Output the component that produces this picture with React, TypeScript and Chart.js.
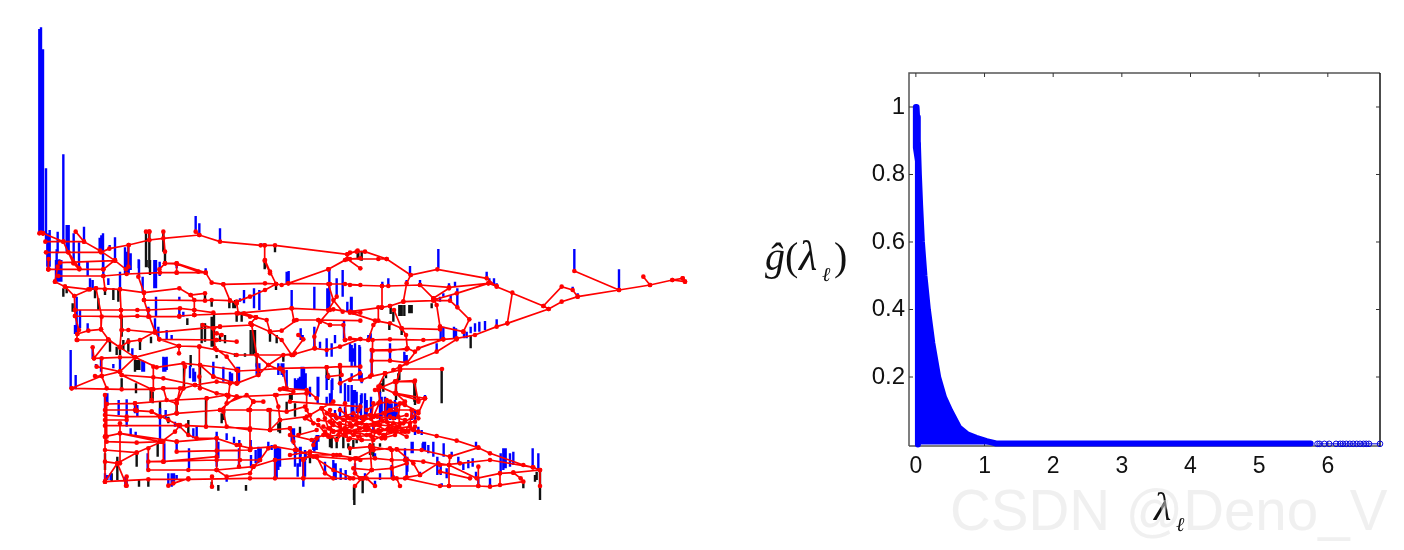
import React, { useEffect, useRef } from "react";
import { Chart, registerables } from "chart.js";

Chart.register(...registerables);

// Left panel: a road network, in map units, one list for each survey sheet.
// Each road is a flat run x,y,x,y... ; each stem is x,top,base.
const roadsNorth: number[][] = [
  [69,670,130,695,160,760,178,778],[76,695,130,695,192,695],[167,665,192,695,240,722,285,752,318,778],
  [78,727,145,727,243,727,268,716,326,705,388,690,430,685,538,675,600,695,722,706,734,706,765,706,982,733,1013,722],
  [145,727,178,775],[86,747,85,778],[120,758,285,752],[85,778,250,778],[326,705,325,770],[378,665,388,665],[388,665,388,690],
  [430,665,435,725],[435,760,470,762,535,785],[435,760,418,778],[527,665,538,675],[734,706,734,752,750,790],
  [982,733,982,747,925,778],[982,747,1021,775],[982,747,1021,745],[58,670,69,670],[63,668,69,670],
];
const roadsSouthWest: number[][] = [
  [85,28,250,28,285,0],[115,48,250,48,320,42,420,38,470,38,557,38],[470,10,470,38],
  [435,10,470,10,557,38,575,68,610,73,735,70,768,72,785,75,805,70,925,28,975,0],[805,70,930,72,975,72,1021,75],[735,0,750,35,768,72],
  [105,65,135,80,205,88,228,85,300,88,372,98,478,85,512,105,555,100],[105,65,113,20],[135,80,163,108,210,88],
  [163,108,165,150,165,168,177,210,172,222,205,212,243,208,265,238,300,262],[165,150,303,150,352,150,385,150,480,145,523,150],[165,168,303,170,352,168,385,170,478,170],
  [228,85,245,170,243,208],[300,88,303,150,303,170,305,210,300,260],[250,48,255,88],
  [355,50,372,98,372,120,388,170,405,215,418,238,477,258],[372,120,555,122,575,120,630,122,650,130],[512,105,523,120,523,165],[523,150,580,158],[478,168,523,165],
  [305,210,325,210,405,218,600,200,695,195],[405,215,360,240,325,245,300,262,265,240],[172,240,265,240],[300,262,345,292],[170,240,172,222],[418,238,590,240],
  [265,240,222,295,218,262],[222,295,300,292,345,292,477,258,477,280],[230,320,300,335,345,292],[225,348,245,348,300,335],[245,348,155,385],[245,295,245,348,260,385],
  [155,385,305,388,395,388,430,385,490,385,525,375],[300,335,305,345,395,388,395,420],
  [305,345,400,352,430,355,525,375,590,365,630,370,650,370,715,345,745,315,790,285,825,280],
  [345,292,410,322,490,310,540,315,580,350],[400,320,400,388],[430,385,440,420,470,430,490,385,495,320],[540,315,650,330],[580,350,650,370],
  [585,265,620,290,650,330,652,370],[710,285,745,315,790,335,800,385],[1021,237,975,240],
  [260,432,345,430,470,420,560,415,620,405],[260,432,260,530],[345,430,350,452,395,455,420,470,470,460],[620,405,650,410,600,450],[620,430,680,405,700,425],
  [255,450,345,450,350,452,395,455,445,480,475,495,505,525,530,535,590,535,650,555,692,565,765,560,825,570],
  [255,465,320,470,420,470],[255,480,320,480],[255,497,500,497,690,505,750,510,810,505],
  [470,460,600,450,690,450,745,450,800,455,855,440],[255,530,260,545,350,548,425,545,465,515,480,495],[255,530,300,520,420,545],[300,520,470,545],
  [255,570,350,578,425,545],[292,610,350,578],[255,605,292,610],[292,610,255,665],[292,610,320,677],[430,605,430,545],[590,535,590,630],[660,555,657,620],
  [255,665,385,658,505,658,690,655,850,655,1020,655],[300,490,300,610],[255,405,255,665],
  [385,565,385,630,505,630,590,630,700,620,765,600,890,590],[385,605,590,600,660,600,720,600],[700,620,720,600,745,565],[765,600,765,655],[850,600,850,655],[890,590,915,640,940,655],[950,585,1005,595,1005,640,1021,655],
  [470,545,590,535],[470,575,590,572,690,570],[430,605,590,590],[590,630,620,650,690,640,700,620],[576,650,576,680],[318,677,320,650],
  [445,677,460,670,505,655],[650,370,630,370,625,410,610,455,620,500,690,510],[525,375,590,400,625,405,650,410,770,405,860,400],
  [480,385,470,430,470,460],[538,260,538,350,540,385],[477,258,538,260,590,270,650,285,710,285,820,285],[580,205,585,265],[548,195,580,205,600,200],
  [590,240,650,245],[590,220,605,225],[650,130,655,160,690,170,708,172,740,180,750,215,785,212,830,180,895,180,1021,182],
  [672,160,708,172],[650,125,690,110,735,90,768,72],[610,73,630,122],[523,165,650,160,815,145,925,150,940,148,1000,158,1021,158],[815,145,822,182],
  [692,190,750,215],[695,195,710,285,715,345],[708,172,692,190],[750,215,785,240,815,285,850,238,835,225],
  [815,285,883,265,920,270,960,260,1021,237],[900,185,883,230,885,265],[900,185,930,150],[930,195,970,195,975,240],[895,180,930,195],
  [925,72,940,120,968,155],[950,110,925,150],[654,333,715,330,780,325,920,322,960,320,1021,320],[920,322,925,350,965,345,960,315],
  [790,385,860,390,890,415],[780,388,820,395],[860,400,860,450,880,490],[765,405,775,440,780,480,750,510],[700,425,730,425],[685,450,700,425],[690,450,690,570],
  [750,450,750,510],[780,480,860,470],[810,505,820,545,830,570],[835,525,890,510],[880,555,890,535],[830,570,870,585,960,585],[870,585,850,600],
  [880,590,940,630,1000,655],[890,590,1021,600],[560,415,558,500],[810,425,1021,440],
];
const roadsEast: number[][] = [
  [0,68,20,65,45,65,110,87,182,135,262,118,410,145,440,170,580,228,635,170,668,180,683,200],[0,87,85,87,110,87],
  [0,165,96,168,115,168,210,165,297,172,415,160,440,168],[96,168,96,232],[182,135,170,160,160,215,120,228,95,232,0,245],[210,165,250,205,260,225,270,290],
  [120,228,160,215,250,212,300,212,322,232,358,268,340,305],[270,290,340,305],[250,205,297,175],[250,210,320,190,415,160],
  [0,248,75,272,120,280,155,295,270,298],[132,240,155,295,168,315,172,355,195,365],[85,232,85,272,70,285,55,330,0,325],
  [55,330,120,328,220,330,280,328,320,325,375,315,440,290,472,280,596,237,635,215,683,200,807,180,900,165,967,150,1005,155],
  [472,280,487,188],[596,237,580,228],[673,123,807,180],[880,140,900,165],[998,145,1005,155],[967,150,998,145],
  [320,328,260,365,150,410],[280,328,205,355,170,400,150,410,130,420],[65,360,170,358],[68,362,120,362,172,355],[65,392,120,392,170,398],[68,330,65,435],
  [150,417,276,417],[150,420,140,455,135,490],[105,430,60,440,35,450,0,450],[105,430,150,420],[135,455,193,455,205,515],[90,470,135,490,205,510,225,505],[85,470,105,430],
  [190,600,205,605,260,618,320,632,385,653,420,670,520,705,548,712,570,720,570,768],[0,655,60,650,125,660,140,658,215,660,300,680,385,653],
  [0,688,75,685,125,690,165,690,220,695,270,705,330,700,420,690,550,712],[10,715,65,720,125,715,170,700],[0,745,40,745,65,720],
  [40,745,130,745,165,745,270,768,297,768,385,768,420,770,520,755,512,745,490,728,570,720],[75,768,50,745],[150,768,140,745],[15,768,35,745],
  [170,742,210,735,265,700,297,705,380,745,450,730,490,728],[270,725,360,745],[300,680,297,705,297,768],[385,710,385,768],[450,730,450,765],
  [140,658,190,700,210,735],[125,660,130,745],[60,650,65,720],[0,605,130,600,190,600],
];
const roadsCity: number[][] = [
  [95,145,125,165,160,180,200,170,240,165,280,160,320,150,365,150,385,175],[85,180,120,185,150,190,185,200,215,190,250,195,290,185,330,190,375,185],
  [100,200,130,215,165,205,195,215,230,225,265,210,305,205,345,215,375,200],[115,230,145,225,180,235,215,240,250,240,285,225,320,215,350,230],
  [120,150,125,190,120,230],[165,130,170,170,165,205,175,240],[205,150,200,190,215,240],[250,130,245,170,255,215,245,260],[290,120,285,160,295,205,285,235],
  [330,130,325,170,335,215],[365,150,360,190,345,215],[95,145,105,175,115,205,130,215],[135,165,180,190,230,210,280,225],[150,215,200,190,250,170,300,150,340,130],
  [180,175,230,195,275,180,320,205,360,200],[120,205,165,225,210,205,255,195,300,215,340,190],[230,150,265,130,300,125,345,135,385,155],[265,90,270,125,250,170],
  [255,90,315,65,375,62],[318,65,318,100,345,125],[318,100,405,115,385,160],[130,125,95,145,60,165,45,175,85,195,110,225],[150,70,210,40],
  [0,225,65,240,100,225],[0,285,60,275,130,285,200,295,250,270,300,265],[250,270,245,230],[140,175,190,160,220,180,262,170,310,175,350,165],[130,195,175,215,225,200,270,195,325,200,368,170],
  [110,160,150,200,190,225,235,205,268,220,310,190,355,215],[150,150,190,180,225,170,258,190,300,170,345,180],[105,215,140,240,165,215,205,230,240,225,275,235,315,225],
];

const blueNorth: number[][] = [
  [58,57,670],[63,52,668],[69,118,670],[78,475,695],[130,433,695],[82,670,770],[85,670,770],[89,660,770],[113,665,730],[110,718,775],[118,748,775],[124,760,775],
  [140,645,725],[146,645,725],[161,670,758],[177,697,775],[192,650,695],[202,755,775],[239,683,725],[244,676,725],[249,670,775],[269,705,715],[285,682,752],
  [315,712,775],[320,725,775],[325,705,775],[332,730,775],[356,748,775],[403,755,775],[419,755,775],[470,760,775],[527,618,665],[538,640,675],[600,655,695],[724,700,706],
];
const blackNorth: number[][] = [[378,665,772],[388,665,775],[430,665,725],[435,725,760],[734,752,778],[765,706,727],[1013,722,745]];
const blueSouthWest: number[][] = [
  [85,0,28],[108,0,65],[113,0,65],[118,0,65],[124,0,65],[177,0,28],[203,5,48],[250,0,48],[300,35,88],[315,0,42],[320,0,42],[326,0,40],[332,5,30],[357,0,48],[368,50,98],
  [403,0,85],[408,0,85],[419,5,48],[557,25,38],[210,55,88],[218,60,90],[265,55,75],[170,110,220],[180,150,205],[165,195,222],[203,190,212],[218,262,295],[152,270,385],
  [167,345,388],[228,312,322],[243,295,335],[280,312,325],[300,290,335],[478,110,120],[478,145,170],[490,155,170],[385,140,170],[408,110,170],[405,175,215],[415,200,240],
  [440,210,240],[455,225,240],[672,90,130],[660,115,125],[702,85,145],[718,90,150],[815,90,150],[883,80,150],[922,85,150],[928,25,150],[950,55,110],[968,30,110],[982,125,155],
  [995,110,155],[800,35,70],[806,33,70],[842,205,240],[848,225,235],[883,200,265],[900,245,265],[920,235,290],[935,250,290],[945,225,250],[972,180,240],[995,255,320],[1005,250,320],
  [1020,260,320],[430,290,335],[436,292,335],[440,290,330],[367,300,335],[372,305,335],[337,265,285],[510,318,355],[520,325,365],[525,335,365],[580,305,350],[610,320,365],
  [630,335,370],[636,340,370],[652,320,375],[657,320,370],[710,310,345],[718,310,345],[775,310,345],[785,310,345],[790,310,350],[800,330,385],[825,355,390],[835,360,390],
  [845,320,390],[852,325,390],[857,340,385],[893,350,430],[920,345,390],[935,360,420],[962,355,400],[975,370,415],[985,375,420],[995,375,420],[255,400,465],[262,400,430],
  [296,420,465],[320,418,500],[345,425,460],[352,435,470],[420,445,550],[437,450,475],[465,485,500],[480,490,505],[520,505,535],[530,500,535],[332,505,525],[347,515,530],
  [590,515,620],[595,545,595],[620,520,540],[642,530,550],[658,540,555],[657,565,620],[692,540,570],[693,585,625],[707,570,610],[715,560,610],[722,565,605],[745,545,570],
  [755,555,570],[765,560,655],[770,560,655],[775,560,630],[780,565,620],[815,505,545],[822,505,535],[828,560,585],[842,560,590],[857,575,600],[883,540,575],[890,525,570],
  [833,610,650],[850,605,680],[855,600,650],[915,605,640],[942,610,660],[947,610,660],[962,625,660],[977,630,660],[1005,610,640],[255,640,670],[262,645,660],[272,640,660],
  [316,650,680],[320,650,680],[383,580,630],[433,550,610],[445,640,680],[455,640,680],[462,640,665],[470,645,660],[470,545,575],[507,565,625],[620,650,665],
];
const blackSouthWest: number[][] = [
  [380,0,22],[390,0,45],[130,85,110],[140,85,100],[280,85,120],[295,90,125],[225,90,115],[255,85,105],[158,130,155],[235,115,150],[305,170,230],[393,230,250],[325,235,275],
  [310,240,270],[270,240,275],[290,260,285],[300,265,285],[360,240,270],[345,300,335],[352,300,330],[358,300,330],[392,390,425],[398,395,430],[348,370,400],[305,355,385],
  [502,175,195],[545,190,250],[555,190,245],[575,170,260],[582,155,260],[650,160,185],[665,155,185],[692,210,285],[700,210,285],[705,210,280],[710,280,320],[750,215,245],
  [770,225,250],[628,115,145],[640,125,145],[645,120,145],[575,120,140],[555,100,125],[768,70,90],[735,0,25],[492,310,380],[540,315,385],[512,285,320],[558,415,505],[470,420,460],
  [420,425,470],[445,470,490],[505,480,525],[605,460,490],[612,450,480],[750,450,510],[780,475,520],[775,490,515],[800,425,460],[825,430,470],[810,400,420],[815,400,420],
  [930,525,560],[935,525,560],[950,530,560],[970,530,565],[990,560,585],[1003,675,735],[678,675,692],[595,675,692],[575,665,685],[357,660,680],[385,660,680],[292,590,660],
  [275,640,665],[255,580,630],[350,575,620],[413,550,590],[675,280,290],[645,280,290],[590,285,295],[615,225,250],[600,225,245],[790,285,305],[870,590,610],[920,315,355],[960,315,365],
];
const blueEast: number[][] = [
  [265,57,115],[180,108,135],[410,125,145],[418,145,165],[432,145,168],[440,160,170],[315,155,170],[297,160,175],[210,150,165],[115,145,165],[97,155,170],[170,150,165],[322,175,232],
  [302,195,212],[280,190,200],[270,200,215],[258,205,212],[673,57,123],[807,118,180],[668,170,182],[683,190,200],[440,268,290],[405,273,300],[388,275,305],[375,280,305],[362,290,310],
  [312,290,325],[318,295,325],[272,290,330],[280,290,330],[260,340,365],[342,305,325],[350,305,325],[62,310,330],[55,315,330],[120,340,392],[163,365,400],[170,375,400],[65,355,430],
  [28,345,450],[3,200,250],[0,340,395],[8,355,395],[15,375,395],[5,430,450],[30,420,445],[460,655,720],[467,655,715],[452,670,725],[480,670,710],[490,665,705],[548,655,712],[565,670,720],
  [378,635,650],[281,640,680],[250,635,680],[235,645,670],[225,635,660],[218,640,660],[188,635,670],[305,665,680],[368,685,710],[355,690,715],[340,700,720],[325,680,700],[262,680,735],
  [272,700,735],[170,685,740],[172,680,725],[125,705,745],[45,730,750],[90,730,750],[130,735,750],[210,725,740],[290,715,745],[378,725,745],[420,745,770],[275,760,770],[385,740,770],
  [75,752,770],[10,480,570],[5,490,570],[33,495,570],[45,490,570],[63,500,570],[90,485,570],[110,505,570],[120,520,570],[135,510,570],[185,535,570],[195,540,570],[225,495,505],[205,590,610],
];
const blackEast: number[][] = [
  [362,315,355],[275,417,520],[193,455,515],[138,460,510],[148,420,450],[100,445,485],[108,430,445],[25,62,88],[35,62,92],[148,225,258],[155,225,258],[163,225,258],[178,225,250],[185,225,250],
  [130,245,275],[122,225,252],[95,232,240],[245,220,235],[118,280,300],[155,295,315],[570,720,810],[560,725,750],[555,735,755],[38,750,790],[12,770,810],[60,640,670],[72,650,660],[62,650,675],[90,640,650],[520,760,775],
];
const blueCity: number[][] = [
  [40,20,90],[30,50,90],[18,60,90],[25,55,90],[60,80,110],[85,50,110],[110,110,135],[120,100,135],[127,55,90],[125,100,130],[165,70,130],[175,95,125],[185,95,125],[195,0,15],[195,90,130],[200,95,160],[210,130,160],
  [215,40,70],[215,100,130],[245,0,30],[230,120,170],[275,110,170],[285,110,170],[295,120,170],[305,130,170],[320,130,170],[185,40,60],[165,140,170],[150,140,170],[135,150,175],[250,190,210],[310,150,180],
  [365,150,175],[405,105,120],[375,205,225],[395,210,225],[400,245,270],[415,255,275],[430,245,280],[345,265,305],[365,245,280],[255,280,300],[12,230,255],[15,265,320],[30,260,320],[45,270,320],[70,240,270],[85,225,245],[130,300,325],
];
const blackCity: number[][] = [
  [125,235,265],[140,235,265],[120,240,262],[190,240,265],[175,250,265],[250,250,290],[240,255,285],[375,60,135],[318,65,115],[325,40,65],[0,110,125],[115,40,60],[270,70,100],[200,240,250],[275,70,85],[60,290,310],[30,200,225],
];

// Right panel: the filter response.
const capLambda = [0.03,0.03,0,0,0.01,0.018,0.026,0.03];
const capValue = [0,0.84,0.88,1,1,0.97,0.92,0.89];
const responseLambda = [0.03,0.044,0.062,0.088,0.125,0.175,0.24,0.325,0.41,0.5,0.63,0.75,0.88,1.03,1.17,5.75];
const responseValue = [0.89,0.8,0.71,0.6,0.5,0.4,0.3,0.2,0.14,0.1,0.05,0.03,0.02,0.01,0.003,0.003];
const sparseLambda = [5.85,5.88,5.95,6.02,6.12,6.18,6.22,6.27,6.32,6.37,6.42,6.47,6.52,6.56,6.6,6.76];
const sparseValue = [0.002,0.002,0.002,0.002,0.002,0.002,0.002,0.002,0.002,0.002,0.002,0.002,0.002,0.002,0.002,0.002];
const xTickValues = [0,1,2,3,4,5,6];
const yTickValues = [0.2,0.4,0.6,0.8,1];
const watermark = "CSDN @Deno_V";

const GAP = { x: NaN, y: NaN };
const roadPoints = (list: number[][], dx: number, dy: number) =>
  list.flatMap((r) => {
    const out: { x: number; y: number }[] = [];
    for (let i = 0; i < r.length; i += 2) out.push({ x: r[i] + dx, y: r[i + 1] + dy });
    out.push(GAP);
    return out;
  });
const stemPoints = (list: number[][], dx: number, dy: number) =>
  list.flatMap(([x, top, base]) => [{ x: x + dx, y: top + dy }, { x: x + dx, y: base + dy }, GAP]);

const frame = {
  id: "frame",
  beforeDatasetsDraw(chart: any) {
    const { ctx, chartArea: a, scales } = chart;
    ctx.save();
    ctx.lineWidth = 1.5;
    ctx.strokeStyle = "#555555";
    ctx.beginPath();
    ctx.moveTo(a.left, a.bottom); ctx.lineTo(a.left, a.top); ctx.lineTo(a.right, a.top);
    ctx.moveTo(a.left, a.bottom); ctx.lineTo(a.right, a.bottom);
    ctx.stroke();
    ctx.strokeStyle = "#111111";
    ctx.beginPath();
    ctx.moveTo(a.right, a.top); ctx.lineTo(a.right, a.bottom);
    ctx.stroke();
    ctx.lineWidth = 1;
    ctx.strokeStyle = "#333333";
    ctx.beginPath();
    for (const v of xTickValues) {
      const p = scales.x.getPixelForValue(v);
      ctx.moveTo(p, a.top); ctx.lineTo(p, a.top + 4);
      ctx.moveTo(p, a.bottom); ctx.lineTo(p, a.bottom - 4);
    }
    for (const v of yTickValues) {
      const p = scales.y.getPixelForValue(v);
      ctx.moveTo(a.left, p); ctx.lineTo(a.left + 4, p);
      ctx.moveTo(a.right, p); ctx.lineTo(a.right - 4, p);
    }
    ctx.stroke();
    ctx.restore();
  },
  afterDraw(chart: any) {
    const { ctx } = chart;
    const put = (t: string, x: number, y: number, font: string) => { ctx.font = font; ctx.fillText(t, x - 700, y); };
    ctx.save();
    ctx.fillStyle = "#111111";
    ctx.textBaseline = "alphabetic";
    ctx.textAlign = "left";
    put("ĝ", 765, 270, "italic 40px 'Liberation Serif'");
    put("(", 785, 270, "40px 'Liberation Serif'");
    put("λ", 799, 270, "italic 42px 'Liberation Serif'");
    put("ℓ", 822, 281, "italic 20px 'Liberation Serif'");
    put(")", 834, 270, "40px 'Liberation Serif'");
    put("λ", 1154, 520, "italic 40px 'Liberation Serif'");
    put("ℓ", 1176, 531, "italic 20px 'Liberation Serif'");
    ctx.fillStyle = "rgba(225,225,225,0.5)";
    put(watermark, 950, 530, "56.5px 'Liberation Sans'");
    ctx.restore();
  },
};

export default function App() {
  const leftRef = useRef<HTMLCanvasElement>(null);
  const rightRef = useRef<HTMLCanvasElement>(null);

  useEffect(() => {
    const left = new Chart(leftRef.current!, {
      type: "scatter",
      data: {
        datasets: [
          {
            label: "negative values",
            data: [...stemPoints(blackNorth, 0, 0), ...stemPoints(blackSouthWest, 0, 750), ...stemPoints(blackEast, 990, 660), ...stemPoints(blackCity, 810, 1050)],
            showLine: true, spanGaps: false, borderColor: "#111111", borderWidth: 2.4, pointRadius: 0, order: 3,
          },
          {
            label: "positive values",
            data: [...stemPoints(blueNorth, 0, 0), ...stemPoints(blueSouthWest, 0, 750), ...stemPoints(blueEast, 990, 660), ...stemPoints(blueCity, 810, 1050)],
            showLine: true, spanGaps: false, borderColor: "#0000ff", borderWidth: 2.4, pointRadius: 0, order: 2,
          },
          {
            label: "roads",
            data: [...roadPoints(roadsNorth, 0, 0), ...roadPoints(roadsSouthWest, 0, 750), ...roadPoints(roadsEast, 990, 660), ...roadPoints(roadsCity, 810, 1050)],
            showLine: true, spanGaps: false, borderColor: "#ff0000", backgroundColor: "#ff0000", borderWidth: 1.7, pointRadius: 2.3, pointBorderWidth: 0, order: 1,
          },
        ],
      },
      options: {
        animation: false, responsive: false,
        layout: { padding: 0, autoPadding: false },
        plugins: { legend: { display: false }, tooltip: { enabled: false } },
        scales: {
          x: { display: false, type: "linear", min: -60, max: 2040 },
          y: { display: false, type: "linear", reverse: true, min: -30, max: 1620 },
        },
      },
    });

    const right = new Chart(rightRef.current!, {
      type: "scatter",
      data: {
        datasets: [
          {
            label: "response",
            data: responseLambda.map((x, i) => ({ x, y: responseValue[i] })),
            showLine: true, borderColor: "#0000ff", backgroundColor: "#0000ff", borderWidth: 6, borderJoinStyle: "round", borderCapStyle: "round",
            pointRadius: 0, fill: "origin", clip: false, order: 2,
          },
          {
            label: "response peak",
            data: capLambda.map((x, i) => ({ x, y: capValue[i] })),
            showLine: true, borderColor: "#0000ff", borderWidth: 6, borderJoinStyle: "round", borderCapStyle: "round", pointRadius: 0, clip: false, order: 2,
          },
          {
            label: "largest eigenvalues",
            data: sparseLambda.map((x, i) => ({ x, y: sparseValue[i] })),
            showLine: true, borderColor: "#0000dd", borderWidth: 1, backgroundColor: "rgba(0,0,0,0)",
            pointBorderColor: "#0000dd", pointBorderWidth: 1, pointRadius: 2.8, clip: false, order: 1,
          },
        ],
      },
      options: {
        animation: false, responsive: false,
        layout: { padding: { left: 159, top: 73, right: 24, bottom: 74 }, autoPadding: false },
        plugins: { legend: { display: false }, tooltip: { enabled: false } },
        scales: {
          x: {
            type: "linear", min: -0.1, max: 6.76,
            grid: { display: false, drawTicks: false }, border: { display: false },
            afterBuildTicks: (s: any) => { s.ticks = xTickValues.map((value) => ({ value })); },
            afterFit: (s: any) => { s.height = 30; },
            ticks: { padding: 7, autoSkip: false, maxRotation: 0, color: "#111111", font: { family: "'Liberation Sans'", size: 23 }, callback: (v: any) => String(v) },
          },
          y: {
            type: "linear", min: -0.0044, max: 1.1007,
            grid: { display: false, drawTicks: false }, border: { display: false },
            afterBuildTicks: (s: any) => { s.ticks = yTickValues.map((value) => ({ value })); },
            afterFit: (s: any) => { s.width = 50; },
            ticks: { padding: 4, autoSkip: false, color: "#111111", font: { family: "'Liberation Sans'", size: 24 }, callback: (v: any) => String(v) },
          },
        },
      },
      plugins: [frame],
    });

    return () => { left.destroy(); right.destroy(); };
  }, []);

  return (
    <div style={{ position: "absolute", left: 0, top: 0, width: 1404, height: 550, overflow: "hidden", background: "#ffffff" }}>
      <canvas ref={leftRef} width={700} height={550} style={{ position: "absolute", left: 0, top: 0 }} />
      <canvas ref={rightRef} width={704} height={550} style={{ position: "absolute", left: 700, top: 0 }} />
    </div>
  );
}
